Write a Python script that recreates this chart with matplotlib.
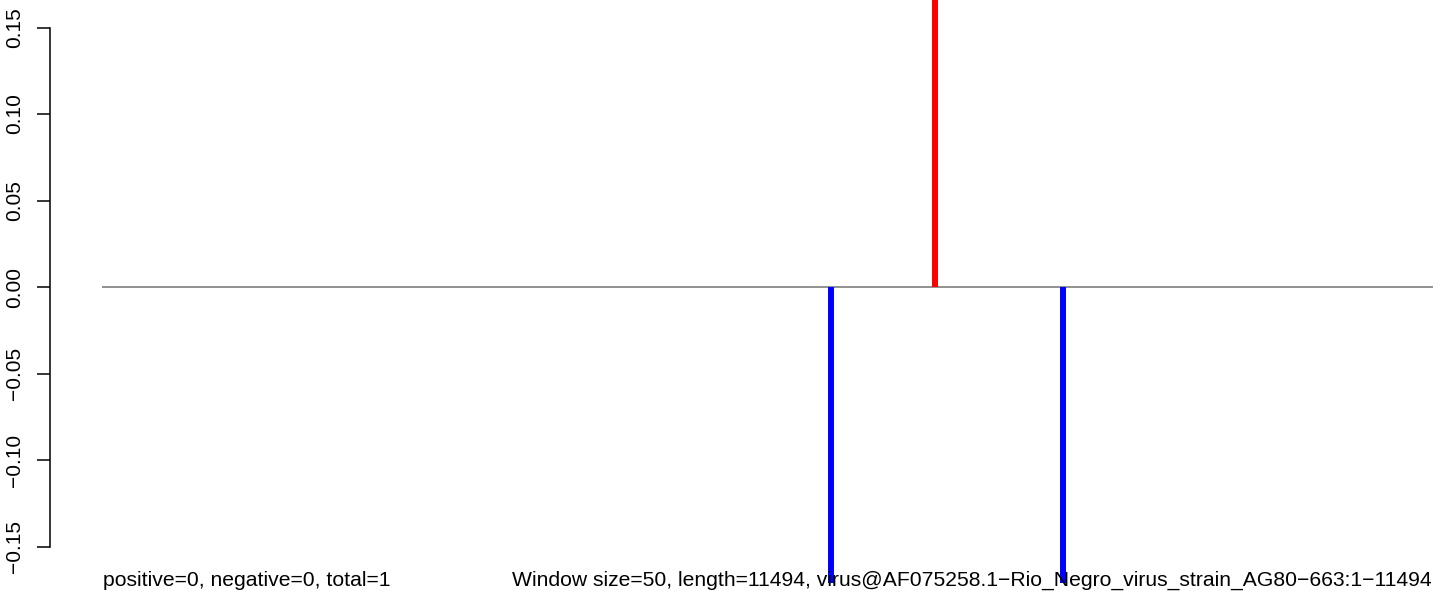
import matplotlib
matplotlib.use("Agg")
import matplotlib.pyplot as plt

plt.rcParams['font.family'] = ['Liberation Sans', 'DejaVu Sans']

# genome positions (window starts) and their scores
seq_start = 1
seq_length = 11494
pos_x = [7200]
pos_y = [1.0]
neg_x = [6300, 8300]
neg_y = [-1.0, -1.0]
yticks = [-0.15, -0.10, -0.05, 0.00, 0.05, 0.10, 0.15]
ytick_labels = ["\u22120.15", "\u22120.10", "\u22120.05", "0.00", "0.05", "0.10", "0.15"]
left_note = "positive=0, negative=0, total=1"
right_note = ("Window size=50, length=11494, "
              "virus@AF075258.1\u2212Rio_Negro_virus_strain_AG80\u2212663:1\u221211494")

W, H = 1444, 594
fig = plt.figure(figsize=(W / 100, H / 100), dpi=100)
# plot region: left edge at x=50px, top at 0, bottom at 583px
ax = fig.add_axes([50 / W, (H - 583) / H, (W - 50) / W, 583 / H])

# x scale: data 1..11494 maps to 103..1432 px
ppu = (1432 - 103) / (seq_length - seq_start)
x0 = seq_start - (103 - 50) / ppu
x1 = seq_start + (W - 103) / ppu
ax.set_xlim(x0, x1)
# y scale: 0 at 287 px, 0.05 per 86.5 px
ppy = 86.5 / 0.05
ax.set_ylim(-(583 - 287) / ppy, 287 / ppy)

ax.plot([seq_start, seq_length], [0, 0], color='#909090', lw=1.4, zorder=1)
ax.vlines(pos_x, 0, pos_y, colors='#ff0000', lw=4.3, zorder=2)
ax.vlines(neg_x, 0, neg_y, colors='#0000ff', lw=4.3, zorder=2)

for s in ['top', 'right', 'bottom']:
    ax.spines[s].set_visible(False)
ax.spines['left'].set_bounds(-0.15, 0.15)
ax.spines['left'].set_linewidth(1.1)
ax.set_xticks([])
ax.set_yticks(yticks)
ax.set_yticklabels(ytick_labels, rotation=90, va='center', fontsize=15)
ax.tick_params(axis='y', length=9.4, width=1.1, pad=9)

ty = -(586 - 287) / ppy
ax.text(seq_start, ty, left_note, ha='left', va='baseline', fontsize=15.2)
ax.text(seq_length, ty, right_note, ha='right', va='baseline', fontsize=15.2)

fig.savefig("out.png", dpi=100)
